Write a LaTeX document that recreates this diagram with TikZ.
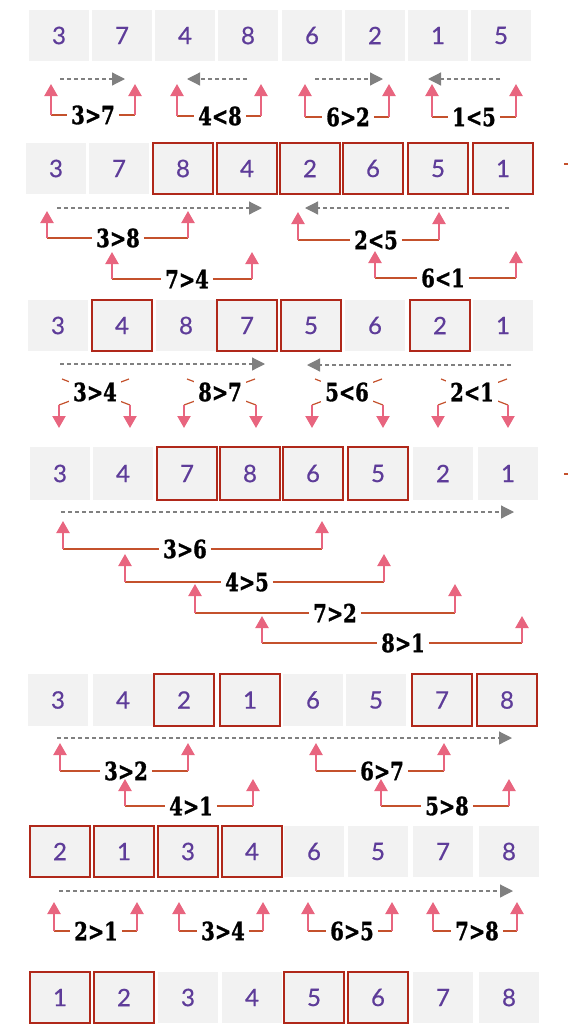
\documentclass[tikz,border=0pt]{standalone}
\usepackage{fontspec}
\usetikzlibrary{arrows.meta}
\setmainfont{Lato}
\newfontfamily\numfont{Lato}[FakeBold=0.6]
\newfontfamily\labfont{DejaVu Serif}[FakeStretch=0.78,FakeBold=1.2]
\definecolor{cellgray}{HTML}{F2F2F2}
\definecolor{cellred}{HTML}{B0281A}
\definecolor{numpurple}{HTML}{5E3C99}
\definecolor{arrowpink}{HTML}{E8657F}
\definecolor{bracketred}{HTML}{C4512C}
\definecolor{dashgray}{HTML}{808080}
\tikzset{
  cellg/.style={fill=cellgray, minimum width=60pt, inner sep=0pt,
    font=\numfont\fontsize{24}{24}\selectfont, text=numpurple},
  cellr/.style={cellg, draw=cellred, line width=2pt},
  swapline/.style={draw=bracketred, line width=1.2pt},
  uparrow/.style={draw=arrowpink, line width=2.2pt, -{Triangle[width=13pt,length=12pt]}},
  scanarrow/.style={draw=dashgray, line width=1.2pt, dash pattern=on 4pt off 3pt,
    -{Triangle[width=13pt,length=13pt]}},
  cmp/.style={fill=white, inner sep=4pt,
    font=\labfont\bfseries\fontsize{25}{25}\selectfont, text=black},
}
% name, left x, right x, tip y, bottom y, label x, text
\newcommand\cmpbracket[7]{%
  \coordinate (#1-lb) at (#2,#5);
  \coordinate (#1-rb) at (#3,#5);
  \coordinate (#1-lt) at (#2,#4);
  \coordinate (#1-rt) at (#3,#4);
  \node[cmp] (#1-lab) at (#6,#5) {#7};
  \draw[swapline] (#1-lb) -- (#1-lab.west);
  \draw[swapline] (#1-lab.east) -- (#1-rb);
  \draw[uparrow] (#1-lb) -- (#1-lt);
  \draw[uparrow] (#1-rb) -- (#1-rt);
}
% name, left x, right x, label x, text
\newcommand\cmpcross[5]{%
  \coordinate (#1-ul) at (#2+3,379);
  \coordinate (#1-ur) at (#3-1,379);
  \coordinate (#1-ll) at (#2,405);
  \coordinate (#1-lr) at (#3,405);
  \coordinate (#1-lt) at (#2,428);
  \coordinate (#1-rt) at (#3,428);
  \draw[swapline] (#1-ul) -- (#1-lr);
  \draw[swapline] (#1-ur) -- (#1-ll);
  \node[cmp] (#1-lab) at (#4,392) {#5};
  \draw[uparrow] (#1-ll) -- (#1-lt);
  \draw[uparrow] (#1-lr) -- (#1-rt);
}
\begin{document}
\begin{tikzpicture}[x=1pt,y=-1pt]
\useasboundingbox[fill=white] (0,0) rectangle (568,1028);

% ---------- rows of cells ----------
\foreach \x/\v/\s [count=\i] in {29/3/g,92/7/g,155/4/g,218/8/g,282/6/g,345/2/g,408/1/g,471/5/g}
  \node[cell\s, minimum height=51pt] (r1c\i) at (\x+30,35.5) {\v};
\foreach \x/\v/\s [count=\i] in {26/3/g,89/7/g,153/8/r,217/4/r,280/2/r,343/6/r,408/5/r,473/1/r}
  \node[cell\s, minimum height=51pt] (r2c\i) at (\x+30,168.5) {\v};
\foreach \x/\v/\s [count=\i] in {28/3/g,92/4/r,156/8/g,217/7/r,281/5/r,345/6/g,410/2/r,473/1/g}
  \node[cell\s, minimum height=51pt] (r3c\i) at (\x+30,325.5) {\v};
\foreach \x/\v/\s [count=\i] in {30/3/g,93/4/g,157/7/r,220/8/r,283/6/r,348/5/r,413/2/g,478/1/g}
  \node[cell\s, minimum height=53pt] (r4c\i) at (\x+30,473.5) {\v};
\foreach \x/\v/\s [count=\i] in {28/3/g,93/4/g,154/2/r,220/1/r,283/6/g,346/5/g,412/7/r,477/8/r}
  \node[cell\s, minimum height=52pt] (r5c\i) at (\x+30,700) {\v};
\foreach \x/\v/\s [count=\i] in {30/2/r,94/1/r,158/3/r,222/4/r,284/6/g,348/5/g,413/7/g,479/8/g}
  \node[cell\s, minimum height=51pt] (r6c\i) at (\x+30,851.5) {\v};
\foreach \x/\v/\s [count=\i] in {30/1/r,94/2/r,158/3/g,222/4/g,284/5/r,348/6/r,413/7/g,479/8/g}
  \node[cell\s, minimum height=51pt] (r7c\i) at (\x+30,997.5) {\v};

% ---------- scan direction arrows ----------
\coordinate (s1a) at (60,79);  \coordinate (s1b) at (125,79);
\coordinate (s2a) at (247,79); \coordinate (s2b) at (187,79);
\coordinate (s3a) at (315,79); \coordinate (s3b) at (383,79);
\coordinate (s4a) at (500,79); \coordinate (s4b) at (428,79);
\coordinate (s5a) at (57,208); \coordinate (s5b) at (262,208);
\coordinate (s6a) at (509,208);\coordinate (s6b) at (305,208);
\coordinate (s7a) at (60,364); \coordinate (s7b) at (265,364);
\coordinate (s8a) at (511,365);\coordinate (s8b) at (307,365);
\coordinate (s9a) at (61,512); \coordinate (s9b) at (514,512);
\coordinate (s10a) at (57,738);\coordinate (s10b) at (512,738);
\coordinate (s11a) at (59,891);\coordinate (s11b) at (513,891);
\foreach \k in {1,...,11}
  \draw[scanarrow] (s\k a) -- (s\k b);

% ---------- comparisons ----------
% row 1
\cmpbracket{a1}{51}{135}{84}{115}{93}{3>7}
\cmpbracket{a2}{177}{261}{84}{116}{220}{4<8}
\cmpbracket{a3}{305}{389}{84}{117}{348}{6>2}
\cmpbracket{a4}{432}{516}{84}{117}{474}{1<5}
% row 2
\cmpbracket{b1}{47}{188}{211}{238}{118}{3>8}
\cmpbracket{b2}{112}{252}{252}{279}{187}{7>4}
\cmpbracket{b3}{298}{439}{212}{240}{376}{2<5}
\cmpbracket{b4}{375}{516}{251}{278}{443}{6<1}
% row 3 (swaps)
\cmpcross{c1}{59}{130}{95}{3>4}
\cmpcross{c2}{184}{256}{220}{8>7}
\cmpcross{c3}{312}{383}{347}{5<6}
\cmpcross{c4}{438}{508}{472}{2<1}
% row 4
\cmpbracket{d1}{63}{322}{521}{549}{185}{3>6}
\cmpbracket{d2}{125}{384}{554}{582}{247}{4>5}
\cmpbracket{d3}{195}{455}{584}{613}{335}{7>2}
\cmpbracket{d4}{262}{522}{616}{643}{403}{8>1}
% row 5
\cmpbracket{e1}{60}{188}{743}{771}{126}{3>2}
\cmpbracket{e2}{125}{253}{779}{806}{191}{4>1}
\cmpbracket{e3}{316}{444}{743}{771}{382}{6>7}
\cmpbracket{e4}{381}{509}{779}{806}{447}{5>8}
% row 6
\cmpbracket{f1}{54}{137}{902}{931}{96}{2>1}
\cmpbracket{f2}{179}{263}{902}{931}{223}{3>4}
\cmpbracket{f3}{308}{392}{902}{931}{352}{6>5}
\cmpbracket{f4}{433}{517}{902}{931}{477}{7>8}

% ---------- cropped marks at the right edge ----------
\coordinate (m1a) at (564,164); \coordinate (m1b) at (568,164);
\coordinate (m2a) at (564,474); \coordinate (m2b) at (568,474);
\draw[swapline] (m1a) -- (m1b);
\draw[swapline] (m2a) -- (m2b);
\end{tikzpicture}
\end{document}
